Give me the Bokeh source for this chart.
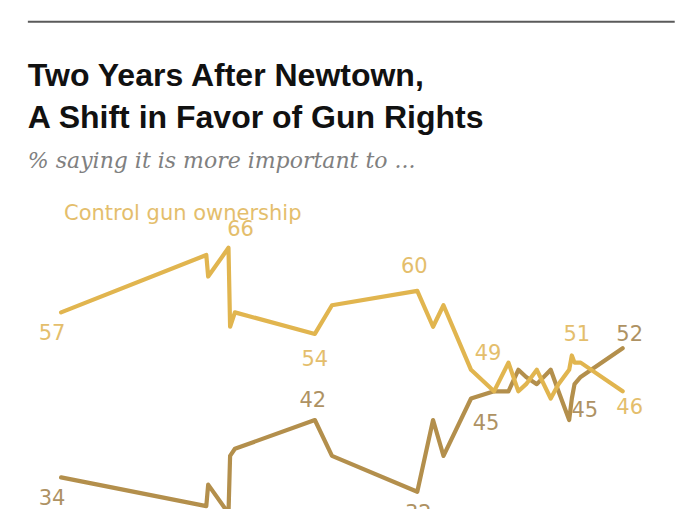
from bokeh.plotting import figure
from bokeh.models import Range1d, Label, ColumnDataSource
from bokeh.core.properties import value
from bokeh.embed import file_html
from bokeh.resources import INLINE

# ---- data (decimal year of survey, % saying more important to ...) ----
dates = [1993.95, 1999.38, 1999.45, 2000.21, 2000.27, 2000.45, 2003.44, 2004.08,
         2007.27, 2007.86, 2008.25, 2009.28, 2010.14, 2010.68, 2011.05, 2011.34,
         2011.74, 2012.26, 2012.55, 2012.95, 2013.05, 2013.15, 2013.38, 2014.95]
control = [57, 65, 62, 66, 55, 57, 54, 58, 60, 55, 58, 49, 46, 50, 46, 47,
           49, 45, 47, 49, 51, 50, 50, 46]
rights = [34, 30, 33, 29, 37, 38, 42, 37, 32, 42, 37, 45, 46, 46, 49, 48,
          47, 49, 46, 42, 45, 47, 48, 52]

control_label_idx = [0, 3, 6, 8, 11, 20, 23]
rights_label_idx = [0, 6, 8, 11, 20, 23]

title_lines = ["Two Years After Newtown,", "A Shift in Favor of Gun Rights"]
subtitle = "% saying it is more important to ..."
control_name = "Control gun ownership"

# ---- styles ----
CTRL = "#E1B54F"
RIGHTS = "#B38F4C"
CTRL_TXT = "#E4BE6C"
RIGHTS_TXT = "#AE9263"

W, H = 684, 509
X0, X1 = 1991.684, 2017.263
Y0, Y1 = 29.53, 100.47

def fx(px):
    return X0 + px / 700.0 * (X1 - X0)

def fy(py):
    return Y1 - py / 525.0 * (Y1 - Y0)

p = figure(width=W, height=H, output_backend="svg", toolbar_location=None,
           x_range=Range1d(X0, X1), y_range=Range1d(Y0, Y1),
           x_axis_location=None, y_axis_location=None, min_border=0,
           outline_line_color=None, background_fill_color="white",
           border_fill_color="white")
p.grid.visible = False

# top rule
p.segment(x0=[fx(28)], y0=[fy(22)], x1=[fx(690)], y1=[fy(22)],
          line_color="#5a5a5a", line_width=2)

p.line(dates, rights, line_color=RIGHTS, line_width=4.2,
       line_join="round", line_cap="round")
p.line(dates, control, line_color=CTRL, line_width=4.2,
       line_join="round", line_cap="round")

ctrl_off = [(-9, 20), (12, -20), (0, 24), (-3, -26), (17, -18), (5, -22), (7, 15)]
rights_off = [(-9, 20), (-2, -21), (1, 20), (15, 23), (13, 10), (7, -15)]

cs = ColumnDataSource(dict(
    x=[dates[i] for i in control_label_idx],
    y=[control[i] for i in control_label_idx],
    t=[str(control[i]) for i in control_label_idx],
    xo=[o[0] for o in ctrl_off], yo=[o[1] for o in ctrl_off]))
rs = ColumnDataSource(dict(
    x=[dates[i] for i in rights_label_idx],
    y=[rights[i] for i in rights_label_idx],
    t=[str(rights[i]) for i in rights_label_idx],
    xo=[o[0] for o in rights_off], yo=[o[1] for o in rights_off]))

for src, col in ((cs, CTRL_TXT), (rs, RIGHTS_TXT)):
    p.text(x="x", y="y", text="t", x_offset="xo", y_offset="yo", source=src,
           text_align="center", text_baseline="middle",
           text_font=value("DejaVu Sans"), text_font_size="21px",
           text_color=col)

p.add_layout(Label(x=fx(65), y=fy(219), text=control_name,
                   text_font="DejaVu Sans", text_font_size="21px",
                   text_color=CTRL_TXT, text_baseline="alphabetic"))

for i, base in enumerate((77, 120)):
    p.add_layout(Label(x=fx(28), y=fy(base), text=title_lines[i],
                       text_font="Liberation Sans", text_font_style="bold",
                       text_font_size="32px", text_color="#111111",
                       text_baseline="alphabetic"))
p.add_layout(Label(x=fx(28), y=fy(165), text=subtitle,
                   text_font="DejaVu Serif", text_font_style="italic",
                   text_font_size="22px", text_color="#808080",
                   text_baseline="alphabetic"))

open("out.html", "w").write(file_html(p, INLINE))
